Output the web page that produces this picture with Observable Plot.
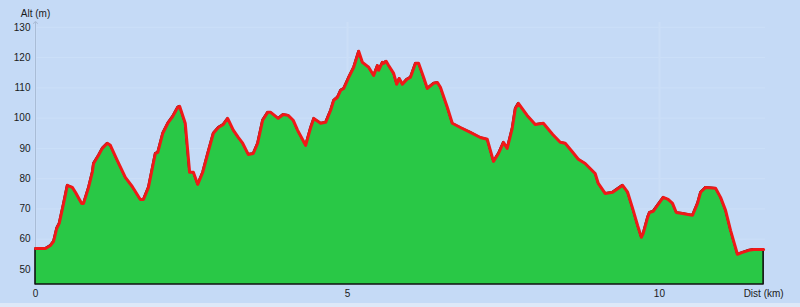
<!DOCTYPE html>
<html>
<head>
<meta charset="utf-8">
<script src="https://cdn.jsdelivr.net/npm/d3@7"></script>
<script src="https://cdn.jsdelivr.net/npm/@observablehq/plot@0.6"></script>
<style>
  html, body { margin: 0; padding: 0; background: #dde8f8; }
  #chart svg { display: block; background: #c5daf6; }
</style>
</head>
<body>
<div id="chart"></div>
<script>
// Distance (km) along the track
const dist = [0, 0.16, 0.24, 0.29, 0.34, 0.38, 0.45, 0.51, 0.59, 0.64, 0.74, 0.77, 0.85, 0.91, 0.93, 1.01, 1.07, 1.15, 1.20, 1.31,
  1.44, 1.55, 1.68, 1.73, 1.81, 1.92, 1.96, 2.04, 2.12, 2.20, 2.28, 2.31, 2.40, 2.47, 2.53, 2.60, 2.68, 2.76, 2.85, 2.93,
  3.01, 3.08, 3.17, 3.25, 3.32, 3.41, 3.49, 3.56, 3.64, 3.72, 3.77, 3.89, 3.97, 4.05, 4.13, 4.20, 4.33, 4.41, 4.46, 4.57,
  4.65, 4.73, 4.78, 4.84, 4.89, 4.94, 5.02, 5.10, 5.18, 5.24, 5.34, 5.42, 5.48, 5.50, 5.56, 5.58, 5.62, 5.66, 5.74, 5.79,
  5.83, 5.88, 5.95, 6.01, 6.09, 6.14, 6.22, 6.28, 6.38, 6.44, 6.49, 6.60, 6.68, 6.81, 6.97, 7.13, 7.24, 7.34, 7.42, 7.50,
  7.56, 7.64, 7.69, 7.74, 7.88, 8.01, 8.14, 8.29, 8.41, 8.49, 8.61, 8.70, 8.81, 8.97, 9.02, 9.13, 9.25, 9.41, 9.49, 9.58,
  9.65, 9.71, 9.74, 9.81, 9.84, 9.90, 9.97, 10.06, 10.14, 10.21, 10.27, 10.37, 10.53, 10.61, 10.66, 10.74, 10.90, 10.98, 11.06, 11.14,
  11.20, 11.25, 11.33, 11.43, 11.51, 11.67];
// Altitude (m)
const alt = [56.9, 56.9, 57.9, 59.3, 63.6, 65.2, 71.8, 77.8, 77.1, 75.5, 71.8, 71.8, 77.1, 82.1, 85.0, 87.7, 90.0, 91.7, 91.0, 86.0,
  80.4, 77.4, 73.1, 73.1, 77.1, 88.3, 88.7, 95.0, 98.3, 100.6, 103.6, 103.9, 98.3, 82.1, 82.1, 78.1, 82.1, 88.3, 95.0, 96.9,
  97.9, 99.9, 96.0, 93.6, 91.7, 88.0, 88.3, 91.7, 99.3, 101.9, 101.9, 99.9, 101.2, 100.9, 99.3, 96.0, 91.0, 96.9, 99.9, 98.3,
  98.6, 102.6, 105.9, 106.9, 109.2, 109.8, 113.5, 116.8, 122.1, 118.4, 116.8, 114.1, 117.4, 115.8, 118.4, 118.1, 118.8, 117.4, 114.8, 111.2,
  113.1, 111.2, 112.8, 113.5, 118.1, 118.1, 113.5, 109.8, 111.5, 111.8, 110.2, 103.6, 98.3, 96.9, 95.3, 93.6, 93.0, 85.7, 88.3, 92.0,
  90.0, 96.6, 103.2, 104.9, 100.9, 97.9, 98.3, 94.6, 92.0, 91.7, 88.7, 86.4, 85.0, 81.7, 78.4, 75.1, 75.5, 77.8, 75.5, 69.5,
  64.5, 60.6, 61.9, 67.2, 68.8, 69.2, 71.2, 73.8, 73.1, 71.8, 68.8, 68.5, 67.9, 71.8, 75.5, 77.1, 76.8, 73.8, 69.5, 62.9,
  58.6, 55.0, 55.6, 56.3, 56.6, 56.6];

const yTicks = [50, 60, 70, 80, 90, 100, 110, 120, 130];
const xTicks = [0, 5, 10];
const yLabel = "Alt (m)";
const xLabel = "Dist (km)";

const data = dist.map((d, i) => ({dist: d, alt: alt[i]}));
const yMin = 45, yMax = 131.6, xMax = 11.7;

const chart = Plot.plot({
  width: 800,
  height: 303,
  marginTop: 22,
  marginBottom: 19,
  marginLeft: 35,
  marginRight: 35,
  style: {fontFamily: "'Liberation Sans', Arial, sans-serif", fontSize: "10px", color: "#222", background: "#c5daf6"},
  x: {domain: [0, xMax], ticks: xTicks},
  y: {domain: [yMin, yMax], ticks: yTicks},
  marks: [
    Plot.gridY(yTicks, {stroke: "#ccdff8", strokeOpacity: 1, strokeWidth: 1}),
    Plot.gridX(xTicks, {stroke: "#cbdef7", strokeOpacity: 1, strokeWidth: 2}),
    Plot.link([0], {x1: 0, x2: 0, y1: yMin, y2: yMax, stroke: "#a9bcd6", strokeWidth: 1, markerEnd: "arrow"}),
    Plot.areaY(data, {x: "dist", y: "alt", y1: yMin, fill: "#29c846", stroke: "#111", strokeWidth: 1.6}),
    Plot.line(data, {x: "dist", y: "alt", stroke: "#f01818", strokeWidth: 3, strokeLinejoin: "round", strokeLinecap: "round"}),
    Plot.axisY(yTicks, {tickSize: 0, tickPadding: 5, label: null, fill: "#1a1a1a"}),
    Plot.axisX(xTicks, {tickSize: 0, tickPadding: 5, label: null, fill: "#1a1a1a"}),
    Plot.text([yLabel], {x: 0, y: yMax, text: d => d, dy: -9, textAnchor: "middle", fill: "#1a1a1a"}),
    Plot.text([xLabel], {x: dist[dist.length - 1], y: yMin, text: d => d, dy: 9, textAnchor: "middle", fill: "#1a1a1a"})
  ]
});
document.getElementById("chart").appendChild(chart);
</script>
</body>
</html>
